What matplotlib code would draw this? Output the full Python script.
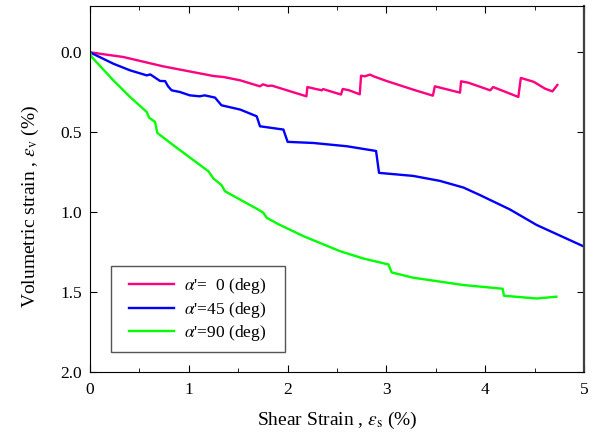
import matplotlib
matplotlib.use("Agg")
import matplotlib.pyplot as plt
from matplotlib.ticker import MultipleLocator, FormatStrFormatter
from matplotlib.patches import Rectangle

plt.rcParams['font.family'] = ['Liberation Serif', 'DejaVu Serif']
plt.rcParams['mathtext.fontset'] = 'stix'

# alpha' = 0 deg
x0 = [0.0, 0.337, 0.74, 1.25, 1.35, 1.52, 1.72, 1.75, 1.80, 1.84, 2.19, 2.20, 2.345, 2.36,
      2.54, 2.557, 2.62, 2.73, 2.743, 2.78, 2.834, 2.87, 3.0, 3.27, 3.47, 3.49, 3.745, 3.755,
      3.83, 4.05, 4.08, 4.335, 4.36, 4.49, 4.605, 4.68, 4.73]
y0 = [0.0, 0.029, 0.0875, 0.148, 0.154, 0.175, 0.2125, 0.20, 0.21, 0.208, 0.275, 0.217, 0.2375, 0.23,
      0.264, 0.229, 0.237, 0.2625, 0.146, 0.15, 0.139, 0.15, 0.179, 0.233, 0.271, 0.2125, 0.252, 0.181,
      0.19, 0.2375, 0.217, 0.279, 0.16, 0.184, 0.227, 0.244, 0.204]

# alpha' = 45 deg
x45 = [0.0, 0.236, 0.405, 0.574, 0.61, 0.709, 0.76, 0.79, 0.826, 0.91, 1.01, 1.11, 1.16, 1.265,
       1.33, 1.52, 1.687, 1.72, 1.957, 2.0, 2.26, 2.6, 2.895, 2.925, 3.27, 3.54, 3.78, 3.95,
       4.25, 4.52, 4.99]
y45 = [0.0, 0.071, 0.1125, 0.144, 0.138, 0.179, 0.18, 0.2125, 0.2375, 0.248, 0.269, 0.275, 0.269, 0.283,
       0.331, 0.358, 0.40, 0.4625, 0.483, 0.56, 0.567, 0.5875, 0.617, 0.754, 0.773, 0.804, 0.846, 0.894,
       0.983, 1.08, 1.2125]

# alpha' = 90 deg
x90 = [0.0, 0.017, 0.236, 0.405, 0.574, 0.597, 0.658, 0.681, 0.843, 1.198, 1.25, 1.33, 1.366, 1.70,
       1.755, 1.788, 1.906, 2.16, 2.53, 2.767, 3.02, 3.053, 3.27, 3.78, 4.176, 4.19, 4.52, 4.72]
y90 = [0.0, 0.029, 0.175, 0.279, 0.373, 0.408, 0.435, 0.504, 0.581, 0.744, 0.79, 0.83, 0.869, 0.983,
       1.004, 1.035, 1.075, 1.15, 1.244, 1.29, 1.327, 1.377, 1.41, 1.456, 1.479, 1.523, 1.54, 1.529]

labels = [r"$\alpha$'=  0 (deg)", r"$\alpha$'=45 (deg)", r"$\alpha$'=90 (deg)"]
colors = ['#ff0080', '#0000ff', '#00ff00']

fig = plt.figure(figsize=(5.97, 4.36), dpi=100)
ax = fig.add_axes([0.1508, 0.1468, 0.8275, 0.8394])

for xs, ys, lab, c in zip([x0, x45, x90], [y0, y45, y90], labels, colors):
    ax.plot(xs, ys, color=c, lw=1.7, label=lab)

ax.set_xlim(0, 5)
ax.set_ylim(2.0, -0.29)
ax.xaxis.set_major_locator(MultipleLocator(1))
ax.xaxis.set_minor_locator(MultipleLocator(0.5))
ax.yaxis.set_major_locator(MultipleLocator(0.5))
ax.yaxis.set_major_formatter(FormatStrFormatter('%.1f'))
ax.tick_params(which='both', direction='in', top=True, right=True, labelsize=12.5)
ax.tick_params(which='major', length=5)
ax.tick_params(which='minor', length=3)
ax.tick_params(axis='x', pad=7.5)
ax.tick_params(axis='y', pad=6)
ax.spines['right'].set_linewidth(1.6)
ax.spines['right'].set_color('#404040')

ax.set_xlabel(r"Shear Strain , $\varepsilon_{\rm s}$ (%)", fontsize=14, va='top')
ax.set_ylabel(r"Volumetric strain , $\varepsilon_{\rm v}$ (%)", fontsize=14)
ax.xaxis.set_label_coords(0.5, -0.103)
ax.yaxis.set_label_coords(-0.10, 0.4536)

# legend frame
ax.add_patch(Rectangle((0.0425, 0.0546), 0.3522, 0.2350, transform=ax.transAxes,
                       facecolor='white', edgecolor='#555555', lw=1.0, zorder=4))
leg = ax.legend(loc='upper left', bbox_to_anchor=(0.0789, 0.262), frameon=False,
                fontsize=12.5, handlelength=2.6, borderpad=0, borderaxespad=0,
                labelspacing=0.2, handletextpad=0.55)
leg.set_zorder(5)

fig.savefig("out.png", dpi=100)
